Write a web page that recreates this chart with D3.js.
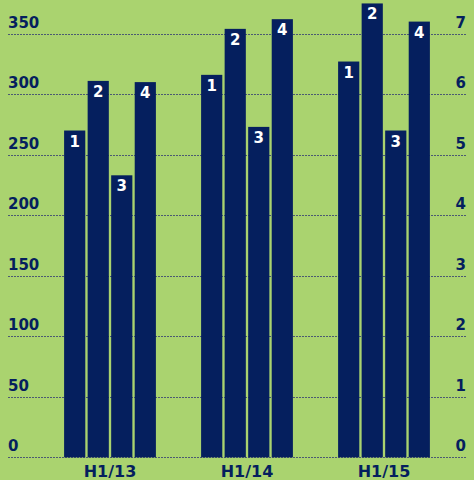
<!DOCTYPE html>
<html>
<head>
<meta charset="utf-8">
<script src="https://cdn.jsdelivr.net/npm/d3@7"></script>
<style>
  body { margin: 0; background: #aad36f; }
  svg { display: block; }
</style>
</head>
<body>
<div id="chart-area"></div>
<script>
var periods = ["H1/13", "H1/14", "H1/15"];
var keys = ["1", "2", "3", "4"];
var values = [
    [270, 311, 233, 310],
    [316, 354, 273, 362],
    [327, 375, 270, 360]
];
var leftTicks = [0, 50, 100, 150, 200, 250, 300, 350];
var rightTicks = [0, 1, 2, 3, 4, 5, 6, 7];

var W = 474, H = 480;
var navy = "#051f5e";
var font = "'DejaVu Sans', sans-serif";

var svg = d3.select("#chart-area")
    .append("svg")
    .attr("width", W)
    .attr("height", H);

svg.append("rect")
    .attr("width", W)
    .attr("height", H)
    .attr("fill", "#aad36f");

var y = d3.scaleLinear().domain([0, 350]).range([457.3, 33.7]);
var y2 = d3.scaleLinear().domain([0, 7]).range([457.3, 33.7]);

var x0 = d3.scaleBand()
    .domain(periods)
    .range([41.5, 452.5])
    .paddingInner(0.33)
    .paddingOuter(0.165);

var x1 = d3.scaleBand()
    .domain(keys)
    .range([0, x0.bandwidth()])
    .paddingInner(0.1);

// dotted gridlines
svg.selectAll("line.grid")
    .data(leftTicks)
    .enter()
    .append("line")
    .attr("class", "grid")
    .attr("x1", 8)
    .attr("x2", 466)
    .attr("y1", (d) => Math.round(y(d)) + 0.5)
    .attr("y2", (d) => Math.round(y(d)) + 0.5)
    .attr("stroke", "#4b5a72")
    .attr("stroke-width", 1)
    .attr("stroke-dasharray", "2,1");

// left axis labels
svg.selectAll("text.left")
    .data(leftTicks)
    .enter()
    .append("text")
    .attr("class", "left")
    .attr("x", 8)
    .attr("y", (d) => y(d) - 6)
    .attr("fill", navy)
    .attr("font-family", font)
    .attr("font-weight", "bold")
    .attr("font-size", 15)
    .text((d) => d);

// right axis labels
svg.selectAll("text.right")
    .data(rightTicks)
    .enter()
    .append("text")
    .attr("class", "right")
    .attr("x", 466)
    .attr("y", (d) => y2(d) - 6)
    .attr("text-anchor", "end")
    .attr("fill", navy)
    .attr("font-family", font)
    .attr("font-weight", "bold")
    .attr("font-size", 15)
    .text((d) => d);

var groups = svg.selectAll("g.period")
    .data(values)
    .enter()
    .append("g")
    .attr("class", "period")
    .attr("transform", (d, i) => "translate(" + x0(periods[i]) + ",0)");

groups.selectAll("rect")
    .data((d) => d.map((v, j) => ({ key: keys[j], value: v })))
    .enter()
    .append("rect")
    .attr("x", (d) => x1(d.key))
    .attr("y", (d) => y(d.value))
    .attr("width", x1.bandwidth())
    .attr("height", (d) => y(0) - y(d.value))
    .attr("fill", navy);

groups.selectAll("text")
    .data((d) => d.map((v, j) => ({ key: keys[j], value: v })))
    .enter()
    .append("text")
    .attr("x", (d) => x1(d.key) + x1.bandwidth() / 2)
    .attr("y", (d) => y(d.value) + 16)
    .attr("text-anchor", "middle")
    .attr("fill", "white")
    .attr("font-family", font)
    .attr("font-weight", "bold")
    .attr("font-size", 15)
    .text((d) => d.key);

// category labels
svg.selectAll("text.cat")
    .data(periods)
    .enter()
    .append("text")
    .attr("class", "cat")
    .attr("x", (d) => x0(d) + x0.bandwidth() / 2)
    .attr("y", 477)
    .attr("text-anchor", "middle")
    .attr("fill", navy)
    .attr("font-family", font)
    .attr("font-weight", "bold")
    .attr("font-size", 16)
    .text((d) => d);
</script>
</body>
</html>
